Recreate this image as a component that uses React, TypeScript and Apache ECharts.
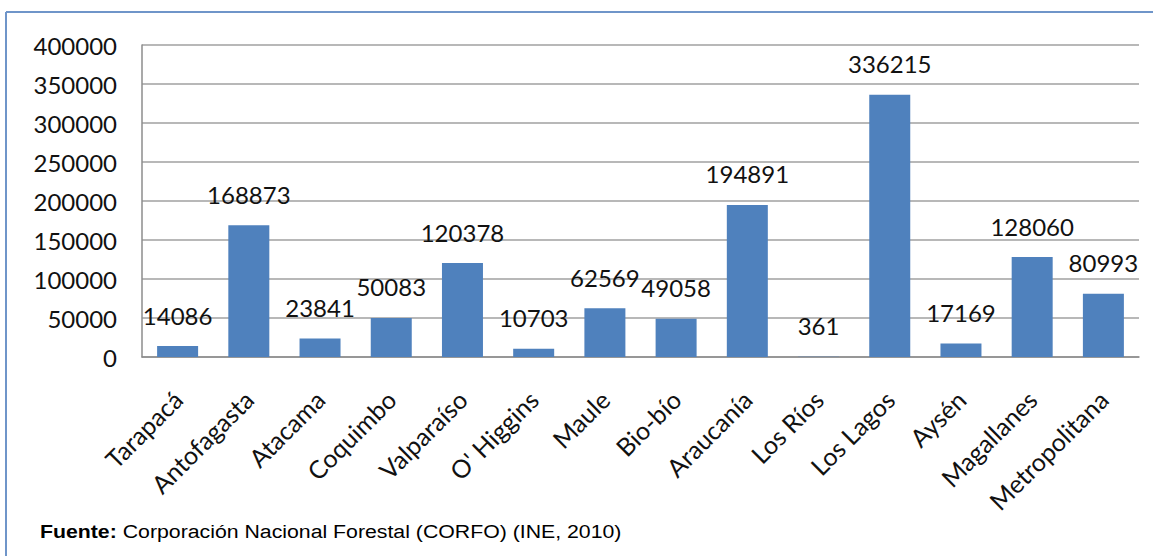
import React, { useEffect, useRef } from "react";
import * as echarts from "echarts";

const categories = [
  "Tarapacá", "Antofagasta", "Atacama", "Coquimbo", "Valparaíso", "O' Higgins", "Maule",
  "Bio-bío", "Araucanía", "Los Ríos", "Los Lagos", "Aysén", "Magallanes", "Metropolitana",
];
const values = [14086, 168873, 23841, 50083, 120378, 10703, 62569, 49058, 194891, 361, 336215, 17169, 128060, 80993];
const yMin = 0;
const yMax = 400000;
const yInterval = 50000;
const sourceBold = "Fuente:";
const sourceText = " Corporación Nacional Forestal (CORFO) (INE, 2010)";

export default function App() {
  const ref = useRef<HTMLDivElement>(null);
  useEffect(() => {
    if (!ref.current) return;
    const chart = echarts.init(ref.current, null, { renderer: "svg" });
    const font = "Lato, 'Open Sans', sans-serif";
    chart.setOption({
      animation: false,
      backgroundColor: "#ffffff",
      grid: { left: 142, right: 14, top: 45, bottom: 199, containLabel: false },
      xAxis: {
        type: "category",
        data: categories,
        axisLine: { show: true, lineStyle: { color: "#8c8c8c", width: 1.5 } },
        axisTick: { show: false },
        axisLabel: {
          rotate: 45,
          interval: 0,
          margin: 38,
          verticalAlign: "middle",
          fontFamily: font,
          fontSize: 25,
          color: "#111",
        },
      },
      yAxis: {
        type: "value",
        min: yMin,
        max: yMax,
        interval: yInterval,
        axisLine: { show: true, lineStyle: { color: "#8c8c8c", width: 1.5 } },
        axisTick: { show: false },
        splitLine: { show: true, lineStyle: { color: "#a0a0a0", width: 1.5 } },
        axisLabel: {
          margin: 25,
          fontFamily: font,
          fontSize: 24,
          color: "#111",
          formatter: (v: number) => String(v),
        },
      },
      series: [
        {
          type: "bar",
          data: values,
          barWidth: 41,
          itemStyle: { color: "#4F81BD" },
          label: {
            show: true,
            position: "top",
            distance: 19,
            fontFamily: font,
            fontSize: 24,
            color: "#111",
          },
        },
      ],
      graphic: [
        { type: "line", shape: { x1: 6, y1: 12, x2: 1153, y2: 12 }, style: { stroke: "#6f95c9", lineWidth: 2 } },
        { type: "line", shape: { x1: 6, y1: 12, x2: 6, y2: 556 }, style: { stroke: "#6f95c9", lineWidth: 2 } },
        {
          type: "text",
          x: 40,
          y: 522,
          scaleX: 1.12,
          style: {
            text: "{b|" + sourceBold + "}{r|" + sourceText + "}",
            rich: {
              b: { fontFamily: "'Liberation Sans', Arial, sans-serif", fontWeight: "bold", fontSize: 19, fill: "#000" },
              r: { fontFamily: "'Liberation Sans', Arial, sans-serif", fontSize: 19, fill: "#000" },
            },
          },
        },
      ],
    });
    return () => chart.dispose();
  }, []);
  return <div ref={ref} style={{ position: "fixed", left: 0, top: 0, width: 1153, height: 556 }} />;
}
